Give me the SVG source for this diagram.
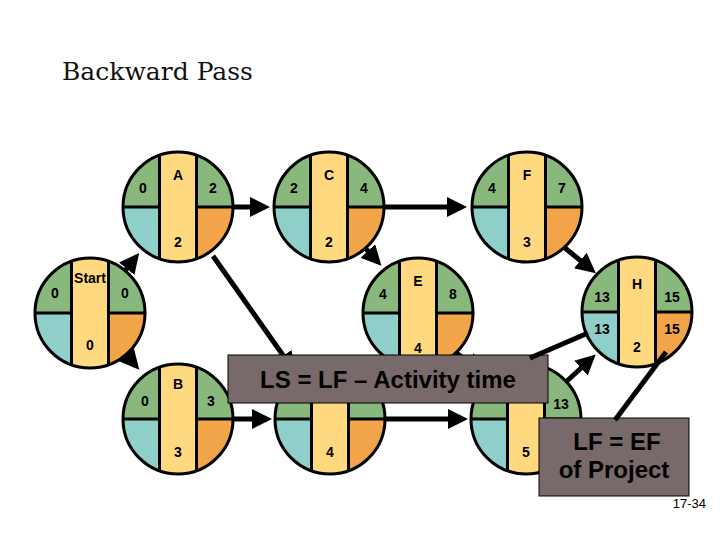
<svg xmlns="http://www.w3.org/2000/svg" width="720" height="540" viewBox="0 0 720 540">
<style>
.n{font-family:"Liberation Sans",Arial,sans-serif;font-weight:bold;font-size:14px;text-anchor:middle;fill:#000}
.e{stroke:#000;stroke-width:5;fill:none}
.d{stroke:#000;stroke-width:3}
.box{fill:#786a6a;stroke:#000;stroke-width:1}
.bt{font-family:"Liberation Sans",Arial,sans-serif;font-weight:bold;fill:#000;text-anchor:middle}
</style>
<defs>
<clipPath id="cc"><circle cx="0" cy="0" r="55"/></clipPath>
<marker id="ah" markerWidth="4" markerHeight="4" refX="3" refY="2" orient="auto" markerUnits="strokeWidth"><path d="M0,0 L4,2 L0,4 z" fill="#000"/></marker>
<g id="node">
<g clip-path="url(#cc)">
<rect x="-56" y="-56" width="112" height="56" fill="#88b87c"/>
<rect x="-56" y="0" width="56" height="56" fill="#8ecfc9"/>
<rect x="0" y="0" width="56" height="56" fill="#f2a448"/>
<rect x="-18.5" y="-56" width="37" height="112" fill="#ffd97f"/>
<line class="d" x1="-18.5" y1="-56" x2="-18.5" y2="56"/>
<line class="d" x1="18.5" y1="-56" x2="18.5" y2="56"/>
<line class="d" x1="-56" y1="0" x2="-18.5" y2="0"/>
<line class="d" x1="18.5" y1="0" x2="56" y2="0"/>
</g>
<circle cx="0" cy="0" r="55" fill="none" stroke="#000" stroke-width="3"/>
</g>
</defs>
<rect width="720" height="540" fill="#fff"/>
<text x="62" y="80" font-family="'DejaVu Serif','Liberation Serif',serif" font-size="25" fill="#111">Backward Pass</text>

<g id="connectors">
<line class="e" x1="124" y1="272" x2="136" y2="257" marker-end="url(#ah)"/>
<line class="e" x1="124" y1="352" x2="136" y2="366" marker-end="url(#ah)"/>
<line class="e" x1="233" y1="207" x2="265" y2="207" marker-end="url(#ah)"/>
<line class="e" x1="383" y1="207" x2="462" y2="207" marker-end="url(#ah)"/>
<line class="e" x1="366" y1="249" x2="378" y2="262" marker-end="url(#ah)"/>
<line class="e" x1="213" y1="256" x2="292" y2="368" marker-end="url(#ah)"/>
<line class="e" x1="565" y1="248" x2="592" y2="270" marker-end="url(#ah)"/>
<line class="e" x1="233" y1="419" x2="267" y2="419" marker-end="url(#ah)"/>
<line class="e" x1="385" y1="419" x2="463" y2="419" marker-end="url(#ah)"/>
<line class="e" x1="452" y1="350" x2="480" y2="370" marker-end="url(#ah)"/>
<line class="e" x1="567" y1="381" x2="592" y2="358" marker-end="url(#ah)"/>
</g>

<g id="Start" transform="translate(90,313)"><use href="#node"/>
<text class="n" x="0" y="-30" font-size="11">Start</text>
<text class="n" x="-35" y="-15">0</text><text class="n" x="35" y="-15">0</text><text class="n" x="0" y="37">0</text></g>
<g id="A" transform="translate(178,207)"><use href="#node"/>
<text class="n" x="0" y="-27">A</text>
<text class="n" x="-35" y="-14">0</text><text class="n" x="35" y="-14">2</text><text class="n" x="0" y="40">2</text></g>
<g id="C" transform="translate(329,207)"><use href="#node"/>
<text class="n" x="0" y="-27">C</text>
<text class="n" x="-35" y="-14">2</text><text class="n" x="35" y="-14">4</text><text class="n" x="0" y="40">2</text></g>
<g id="F" transform="translate(527,207)"><use href="#node"/>
<text class="n" x="0" y="-27">F</text>
<text class="n" x="-35" y="-14">4</text><text class="n" x="35" y="-14">7</text><text class="n" x="0" y="40">3</text></g>
<g id="E" transform="translate(418,313)"><use href="#node"/>
<text class="n" x="0" y="-27">E</text>
<text class="n" x="-35" y="-14">4</text><text class="n" x="35" y="-14">8</text><text class="n" x="0" y="40">4</text></g>
<g id="H" transform="translate(637,312)"><use href="#node"/>
<text class="n" x="0" y="-23">H</text>
<text class="n" x="-35" y="-10">13</text><text class="n" x="35" y="-10">15</text>
<text class="n" x="-35" y="22">13</text><text class="n" x="35" y="22">15</text><text class="n" x="0" y="40">2</text></g>
<g id="B" transform="translate(178,419)"><use href="#node"/>
<text class="n" x="0" y="-30">B</text>
<text class="n" x="-33" y="-13">0</text><text class="n" x="33" y="-13">3</text><text class="n" x="0" y="38">3</text></g>
<g id="D" transform="translate(330,419)"><use href="#node"/>
<text class="n" x="0" y="38">4</text></g>
<g id="G" transform="translate(526,419)"><use href="#node"/>
<text class="n" x="35" y="-10">13</text><text class="n" x="0" y="38">5</text></g>

<g id="callout1">
<rect class="box" x="228" y="355" width="320" height="48"/>
<text class="bt" x="388" y="388" font-size="24">LS = LF – Activity time</text>
<line class="e" x1="530" y1="358" x2="588" y2="333"/>
</g>
<g id="callout2">
<rect class="box" x="539" y="418" width="150" height="78"/>
<text class="bt" x="617" y="450" font-size="24">LF = EF</text>
<text class="bt" x="614" y="478" font-size="24">of Project</text>
<line class="e" x1="615" y1="420" x2="666" y2="352"/>
</g>
<text x="706" y="508" font-family="'Liberation Sans',Arial,sans-serif" font-size="13" text-anchor="end" fill="#000">17-34</text>
</svg>
